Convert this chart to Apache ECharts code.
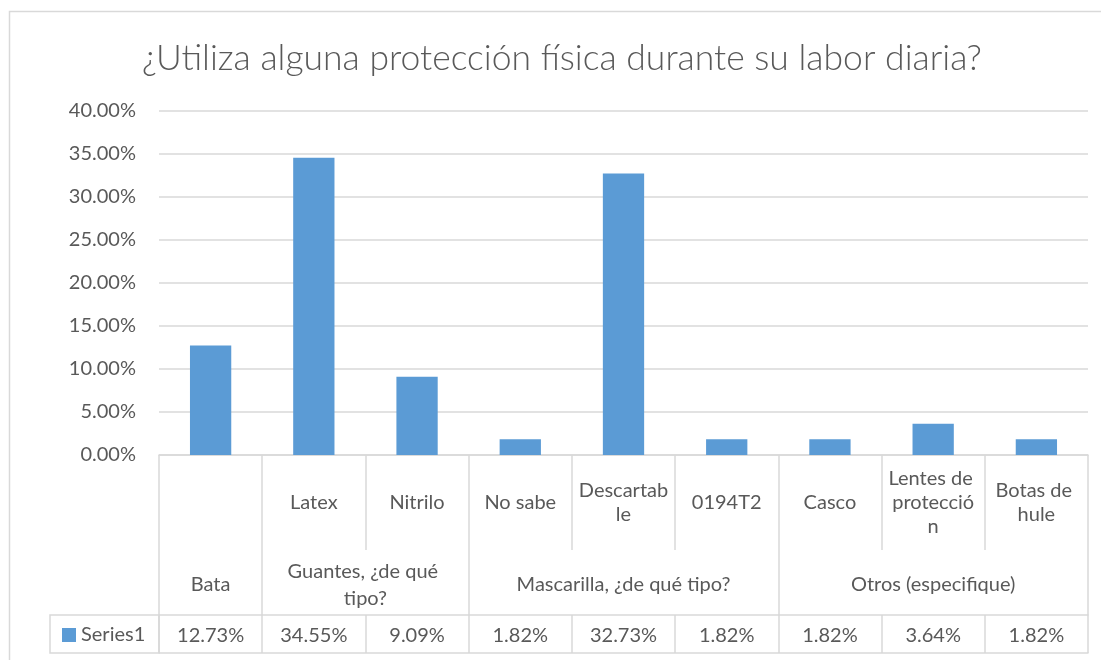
<!DOCTYPE html>
<html>
<head>
<meta charset="utf-8">
<script src="https://cdn.jsdelivr.net/npm/echarts@6/dist/echarts.min.js"></script>
<style>html,body{margin:0;padding:0;background:#fff}#main{width:1101px;height:660px}</style>
</head>
<body>
<div id="main"></div>
<script>
var titleText = '¿Utiliza alguna protección física durante su labor diaria?';
var groups = ['Bata', 'Guantes, ¿de qué tipo?', 'Mascarilla, ¿de qué tipo?', 'Otros (especifique)'];
var groupSizes = [1, 2, 3, 3];
var subcats = ['', 'Latex', 'Nitrilo', 'No sabe', 'Descartable', '0194T2', 'Casco', 'Lentes de protección', 'Botas de hule'];
var values = [12.73, 34.55, 9.09, 1.82, 32.73, 1.82, 1.82, 3.64, 1.82];
var seriesName = 'Series1';

var chart = echarts.init(document.getElementById('main'));
var txt = '#595959', gridCol = '#d9d9d9', font = 'Lato';
var cellW = (1101 - 159 - 13) / subcats.length;
var lineSt = {color: gridCol, width: 1.5};

function pct(v) { return v.toFixed(2) + '%'; }

// table rows under the plot: sub categories, groups, data values
var xAxes = [
    {
        type: 'category', data: subcats, position: 'bottom',
        axisLine: {lineStyle: lineSt},
        axisTick: {show: true, interval: 0, length: 95, lineStyle: lineSt},
        axisLabel: {interval: 0, margin: 48, verticalAlign: 'middle', color: txt, fontFamily: font, fontSize: 20,
            lineHeight: 24, width: cellW - 10, overflow: 'break'}
    },
    {
        type: 'category', data: subcats, position: 'bottom', offset: 160,
        axisLine: {lineStyle: lineSt},
        axisTick: {show: true, interval: 0, length: 38, lineStyle: lineSt},
        axisLabel: {interval: 0, margin: 21, verticalAlign: 'middle', color: txt, fontFamily: font, fontSize: 20,
            formatter: function (v, i) { return pct(values[i]); }}
    },
    {
        type: 'category', data: subcats, position: 'bottom', offset: 198,
        axisLine: {lineStyle: lineSt}, axisTick: {show: false}, axisLabel: {show: false}
    }
];
var start = 0;
groups.forEach(function (g, i) {
    var end = start + groupSizes[i];
    xAxes.push({
        type: 'value', min: 0, max: subcats.length, position: 'bottom', offset: 95,
        axisLine: {show: false}, splitLine: {show: false},
        axisTick: {show: true, customValues: [start, end], length: 65, lineStyle: lineSt},
        axisLabel: {customValues: [(start + end) / 2], formatter: function () { return g; },
            margin: 35, verticalAlign: 'middle', color: txt, fontFamily: font, fontSize: 20, lineHeight: 27,
            width: groupSizes[i] * cellW - 14, overflow: 'break'}
    });
    start = end;
});

var option = {
    animation: false,
    textStyle: {fontFamily: font},
    title: {
        text: titleText, left: 137, top: 36,
        textStyle: {color: txt, fontFamily: font, fontSize: 35.5, fontWeight: 300}
    },
    legend: {
        data: [seriesName], left: 57, top: 620, icon: 'rect', itemWidth: 14, itemHeight: 14,
        textStyle: {color: txt, fontSize: 20, fontFamily: font}
    },
    grid: {left: 159, right: 13, top: 111, bottom: 205},
    xAxis: xAxes,
    yAxis: {
        type: 'value', min: 0, max: 40, interval: 5,
        axisLine: {show: false}, axisTick: {show: false},
        axisLabel: {color: txt, fontFamily: font, fontSize: 20, margin: 23, formatter: pct},
        splitLine: {lineStyle: lineSt}
    },
    graphic: [
        {type: 'rect', shape: {x: 9.5, y: 11.5, width: 1108, height: 700}, style: {fill: 'none', stroke: gridCol, lineWidth: 1.5}, silent: true},
        {type: 'rect', shape: {x: 50, y: 615, width: 109, height: 38}, style: {fill: 'none', stroke: gridCol, lineWidth: 1.5}, silent: true}
    ],
    series: [{
        name: seriesName, type: 'bar', data: values, barCategoryGap: '60%',
        itemStyle: {color: '#5b9bd5'}
    }]
};
chart.setOption(option);
</script>
</body>
</html>
